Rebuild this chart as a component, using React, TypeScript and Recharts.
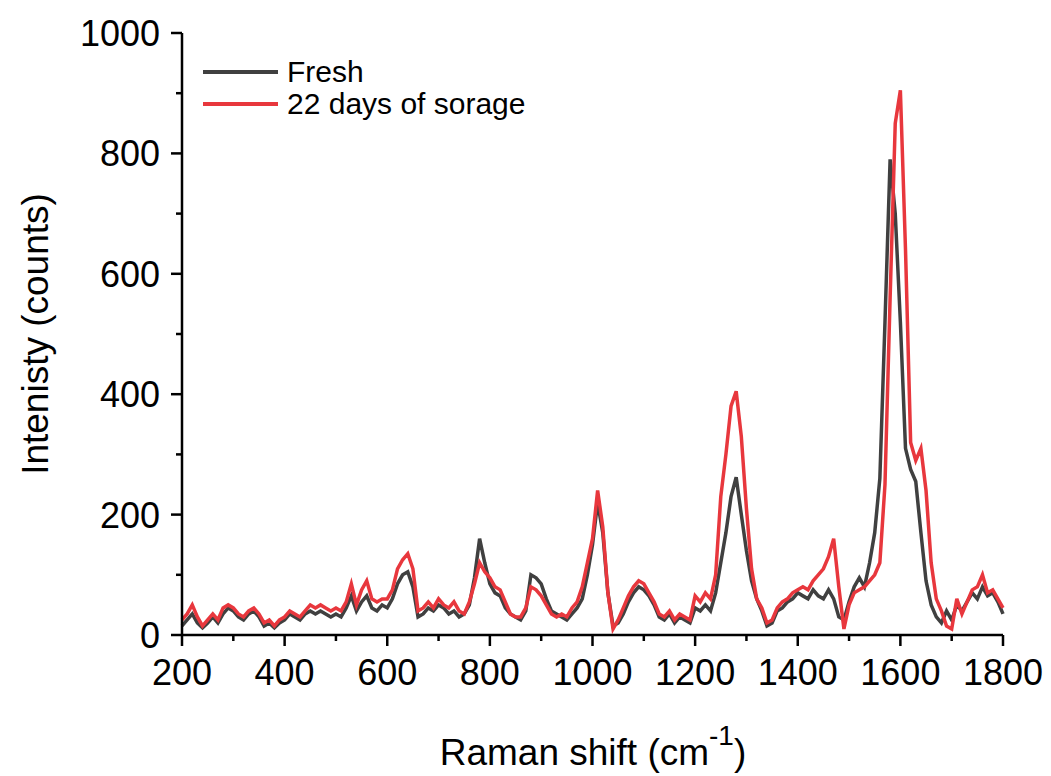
import { LineChart, Line, XAxis, YAxis } from "recharts";

// Raman shift grid (cm-1), 10 cm-1 steps
const shifts = [
  200, 210, 220, 230, 240, 250, 260, 270, 280, 290, 300, 310, 320, 330, 340, 350, 360, 370, 380, 390,
  400, 410, 420, 430, 440, 450, 460, 470, 480, 490, 500, 510, 520, 530, 540, 550, 560, 570, 580, 590,
  600, 610, 620, 630, 640, 650, 660, 670, 680, 690, 700, 710, 720, 730, 740, 750, 760, 770, 780, 790,
  800, 810, 820, 830, 840, 850, 860, 870, 880, 890, 900, 910, 920, 930, 940, 950, 960, 970, 980, 990,
  1000, 1010, 1020, 1030, 1040, 1050, 1060, 1070, 1080, 1090, 1100, 1110, 1120, 1130, 1140, 1150, 1160, 1170, 1180, 1190,
  1200, 1210, 1220, 1230, 1240, 1250, 1260, 1270, 1280, 1290, 1300, 1310, 1320, 1330, 1340, 1350, 1360, 1370, 1380, 1390,
  1400, 1410, 1420, 1430, 1440, 1450, 1460, 1470, 1480, 1490, 1500, 1510, 1520, 1530, 1540, 1550, 1560, 1570, 1580, 1590,
  1600, 1610, 1620, 1630, 1640, 1650, 1660, 1670, 1680, 1690, 1700, 1710, 1720, 1730, 1740, 1750, 1760, 1770, 1780, 1790,
  1800,
];

const fresh = [
  15, 25, 35, 20, 12, 20, 30, 20, 35, 45, 40, 30, 25, 35, 40, 30, 15, 20, 12, 20,
  25, 35, 30, 25, 35, 40, 35, 40, 35, 30, 35, 30, 45, 65, 40, 55, 65, 45, 40, 50,
  45, 60, 85, 100, 105, 80, 30, 35, 45, 40, 50, 45, 35, 40, 30, 35, 50, 95, 160, 120,
  85, 70, 65, 45, 35, 30, 25, 40, 100, 95, 85, 60, 40, 35, 30, 25, 35, 45, 60, 100,
  150, 220, 170, 70, 15, 20, 35, 55, 70, 80, 75, 65, 50, 30, 25, 35, 20, 30, 25, 20,
  45, 40, 50, 40, 70, 120, 170, 230, 262, 200, 140, 90, 60, 40, 15, 20, 40, 45, 55, 60,
  70, 65, 60, 75, 65, 60, 75, 60, 30, 25, 55, 80, 95, 80, 120, 170, 260, 520, 790, 700,
  520, 310, 275, 255, 170, 90, 50, 30, 20, 40, 25, 50, 40, 55, 70, 60, 80, 65, 70, 55,
  35,
];

const stored = [
  25, 35, 50, 30, 15, 25, 35, 25, 45, 50, 45, 35, 30, 40, 45, 35, 20, 25, 15, 25,
  30, 40, 35, 30, 40, 50, 45, 50, 45, 40, 45, 40, 55, 85, 50, 75, 90, 60, 55, 60,
  60, 75, 110, 125, 135, 110, 40, 45, 55, 45, 60, 50, 45, 55, 40, 35, 55, 85, 120, 105,
  95, 80, 75, 55, 35, 30, 30, 45, 80, 75, 65, 50, 35, 30, 35, 30, 45, 55, 80, 120,
  160, 240, 180, 70, 10, 25, 45, 65, 80, 90, 85, 70, 55, 35, 30, 40, 25, 35, 30, 25,
  65, 55, 70, 60, 100, 230, 300, 380, 405, 330, 210, 110, 60, 45, 20, 25, 45, 55, 60, 70,
  75, 80, 75, 90, 100, 110, 130, 160, 80, 10, 50, 70, 75, 80, 90, 100, 120, 250, 560, 850,
  905, 640, 320, 290, 310, 240, 120, 60, 40, 15, 10, 60, 35, 55, 75, 80, 100, 70, 75, 60,
  45,
];

const xTicks = [200, 300, 400, 500, 600, 700, 800, 900, 1000, 1100, 1200, 1300, 1400, 1500, 1600, 1700, 1800];
const yTicks = [0, 100, 200, 300, 400, 500, 600, 700, 800, 900, 1000];

const FONT = "Arial, 'Liberation Sans', sans-serif";
const GRAY = "#404040";
const RED = "#e8373d";

const data = shifts.map((x, i) => ({ x, fresh: fresh[i], stored: stored[i] }));

const XTick = (props: any) => {
  const { x, y, payload } = props;
  const major = payload.value % 200 === 0;
  return (
    <g>
      <line x1={x} x2={x} y1={y} y2={y + (major ? 11 : 6)} stroke="#000" strokeWidth={2.5} />
      {major && (
        <text x={x} y={y + 50} textAnchor="middle" fontSize={36} fontFamily={FONT} fill="#000">
          {payload.value}
        </text>
      )}
    </g>
  );
};

const YTick = (props: any) => {
  const { x, y, payload } = props;
  const major = payload.value % 200 === 0;
  return (
    <g>
      <line x1={x} x2={x - (major ? 11 : 6)} y1={y} y2={y} stroke="#000" strokeWidth={2.5} />
      {major && (
        <text x={x - 22} y={y + 13} textAnchor="end" fontSize={36} fontFamily={FONT} fill="#000">
          {payload.value}
        </text>
      )}
    </g>
  );
};

const XLabel = () => (
  <text x={585} y={757} textAnchor="middle" fontSize={37} fontFamily={FONT} fill="#000">
    Raman shift (cm
    <tspan fontSize={28} dy={-20}>-1</tspan>
    <tspan dy={20}>)</tspan>
  </text>
);

const YLabel = () => (
  <text
    x={40}
    y={326}
    textAnchor="middle"
    fontSize={37}
    fontFamily={FONT}
    fill="#000"
    transform="rotate(-90, 40, 326)"
  >
    Intenisty (counts)
  </text>
);

const legendItems = [
  { name: "Fresh", color: GRAY },
  { name: "22 days of sorage", color: RED },
];

export default function App() {
  return (
    <div style={{ position: "relative", width: 1035, height: 768 }}>
      <LineChart width={1035} height={768} data={data} margin={{ top: 25, right: 40, left: 74, bottom: 61 }}>
        <XAxis
          dataKey="x"
          type="number"
          domain={[200, 1800]}
          ticks={xTicks}
          interval={0}
          tickSize={0}
          tickMargin={0}
          tickLine={false}
          tick={<XTick />}
          height={80}
          axisLine={{ stroke: "#000", strokeWidth: 2.5 }}
          label={<XLabel />}
        />
        <XAxis
          xAxisId="top"
          dataKey="x"
          type="number"
          domain={[200, 1800]}
          orientation="top"
          tick={false}
          tickLine={false}
          height={0}
          axisLine={{ stroke: "#000", strokeWidth: 2.5 }}
        />
        <YAxis
          type="number"
          domain={[0, 1000]}
          ticks={yTicks}
          interval={0}
          tickSize={0}
          tickMargin={0}
          tickLine={false}
          tick={<YTick />}
          width={100}
          axisLine={{ stroke: "#000", strokeWidth: 2.5 }}
          label={<YLabel />}
        />
        <YAxis
          yAxisId="right"
          orientation="right"
          domain={[0, 1000]}
          tick={false}
          tickLine={false}
          width={0}
          axisLine={{ stroke: "#000", strokeWidth: 2.5 }}
        />
        <Line type="linear" dataKey="fresh" stroke={GRAY} strokeWidth={3.5} dot={false} isAnimationActive={false} />
        <Line type="linear" dataKey="stored" stroke={RED} strokeWidth={3.5} dot={false} isAnimationActive={false} />
      </LineChart>
      <div style={{ position: "absolute", left: 195, top: 48, fontFamily: FONT, fontSize: 30, lineHeight: "30px" }}>
        {legendItems.map((item) => (
          <div key={item.name} style={{ display: "flex", alignItems: "center", height: 32 }}>
            <div style={{ width: 75, height: 3.5, background: item.color, marginRight: 9 }} />
            <span style={{ lineHeight: "30px" }}>{item.name}</span>
          </div>
        ))}
      </div>
    </div>
  );
}
